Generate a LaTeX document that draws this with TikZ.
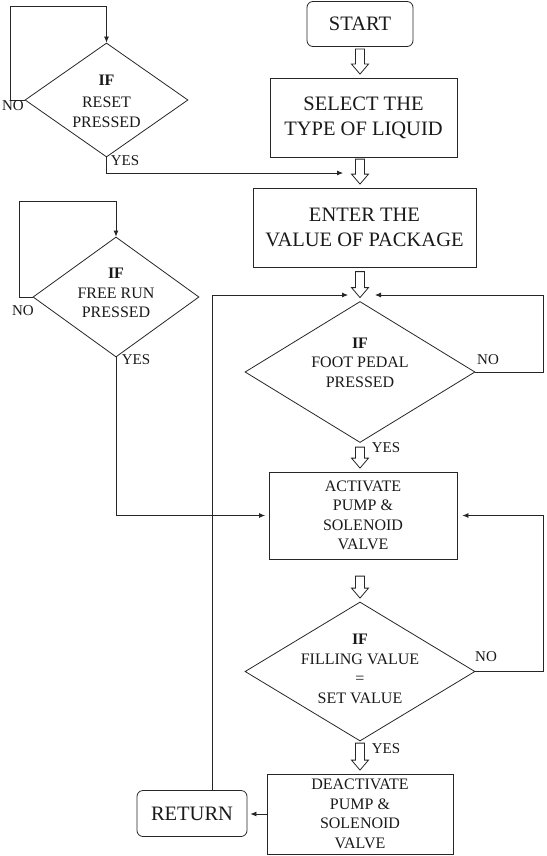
\documentclass[tikz,border=0pt]{standalone}
\usepackage{fontspec}
\setmainfont{Liberation Serif}
\usetikzlibrary{shapes.geometric,arrows.meta,calc}

\tikzset{
  line/.style={draw=black!85, line width=0.8pt},
  arr/.style={line, -{Latex[length=6pt,width=5pt]}},
  proc/.style={line, rectangle, inner sep=0pt, align=center, text=black!90, font=\fontsize{16}{19.5}\selectfont},
  bigproc/.style={proc, font=\fontsize{20.5}{25}\selectfont},
  term/.style={bigproc, rounded corners=6pt},
  dia/.style={line, diamond, inner sep=0pt},
  dtext/.style={align=center, inner sep=0pt, text=black!90, font=\fontsize{16}{19.5}\selectfont},
  lbl/.style={inner sep=0pt, text=black!90, font=\fontsize{15}{15}\selectfont},
  hollow/.style={draw=black!85, line width=0.8pt, fill=white, line join=miter},
}

% hollow block arrow: x taken from #2, tip 3.5pt above #3, total length #1
\newcommand\harrow[3][25]{%
  \draw[hollow] let \p1=(#2), \p2=(#3) in
   ({\x1-4.5pt},{\y2+3.5pt+#1pt}) -- ({\x1+4.5pt},{\y2+3.5pt+#1pt}) --
   ({\x1+4.5pt},{\y2+13.5pt}) -- ({\x1+8.5pt},{\y2+13.5pt}) --
   ({\x1},{\y2+3.5pt}) -- ({\x1-8.5pt},{\y2+13.5pt}) --
   ({\x1-4.5pt},{\y2+13.5pt}) -- cycle;}

\begin{document}
\begin{tikzpicture}[x=1pt,y=-1pt]
\useasboundingbox (0,0) rectangle (546,856);

% main column
\node[term, minimum width=106pt, minimum height=45pt] (start) at (360,24) {START};
\node[bigproc, minimum width=187pt, minimum height=79pt] (select) at (363.5,117.5) {SELECT THE\\TYPE OF LIQUID};
\node[bigproc, minimum width=223pt, minimum height=79pt] (enter) at (364.5,227.5) {ENTER THE\\VALUE OF PACKAGE};
\node[dia, minimum width=230pt, minimum height=141pt] (foot) at (360,372) {};
\node[dtext, yshift=9.5pt] (foottxt) at (foot.center) {\textbf{IF}\\FOOT PEDAL\\PRESSED};
\node[proc, minimum width=188pt, minimum height=87pt] (act) at (363,515.5) {ACTIVATE\\PUMP \&\\SOLENOID\\VALVE};
\node[dia, minimum width=230pt, minimum height=139pt] (fill) at (360,671.5) {};
\node[dtext, yshift=2.5pt] (filltxt) at (fill.center) {\textbf{IF}\\FILLING VALUE\\=\\SET VALUE};
\node[proc, minimum width=186pt, minimum height=80pt] (deact) at (360,814) {DEACTIVATE\\PUMP \&\\SOLENOID\\VALVE};
\node[term, minimum width=110pt, minimum height=46pt] (ret) at (192,813.5) {RETURN};

% side decisions
\node[dia, minimum width=163pt, minimum height=114pt] (reset) at (106.5,100) {};
\node[dtext, yshift=-1pt] (resettxt) at (reset.center) {\textbf{IF}\\[3pt]RESET\\PRESSED};
\node[dia, minimum width=166pt, minimum height=120pt] (free) at (116,297) {};
\node[dtext, yshift=4pt] (freetxt) at (free.center) {\textbf{IF}\\FREE RUN\\PRESSED};

% hollow arrows
\harrow{start.south}{select.north}
\harrow{select.south -| start}{enter.north}
\harrow[26]{enter.south -| foot}{foot.north}
\harrow[21]{foot.south}{act.north}
\harrow[22]{act.south -| fill}{fill.north}
\harrow[27]{fill.south}{deact.north}

% junction points
\coordinate (j1) at (343,173);
\coordinate (j3l) at (348,295);
\coordinate (j3r) at (375,295);

% connectors
\draw[arr] (reset.west) -- ++(-14,0) |- ($(reset.north)+(0,-36)$) -- (reset.north);
\draw[arr] (reset.south) |- (j1);
\draw[arr] (free.west) -- ++(-13,0) |- ($(free.north)+(0,-35)$) -- (free.north);
\draw[arr, shorten >=3.5pt] (free.south) |- (act.west);
\draw[arr] (foot.east) -- ++(68,0) |- (j3r);
\draw[arr] ($(ret.north)+(20,0)$) |- (j3l);
\draw[arr, shorten >=5pt] (fill.east) -- ++(68,0) |- (act.east);
\draw[arr, shorten >=3pt] (deact.west) -- (deact.west -| ret.east);

% labels
\node[lbl] (l1) at (13,106) {NO};
\node[lbl] (l2) at (125,161) {YES};
\node[lbl] (l3) at (23,311) {NO};
\node[lbl] (l4) at (136,360) {YES};
\node[lbl] (l5) at (488,360) {NO};
\node[lbl] (l6) at (386,448) {YES};
\node[lbl] (l7) at (486,657) {NO};
\node[lbl] (l8) at (386,749) {YES};
\end{tikzpicture}
\end{document}
